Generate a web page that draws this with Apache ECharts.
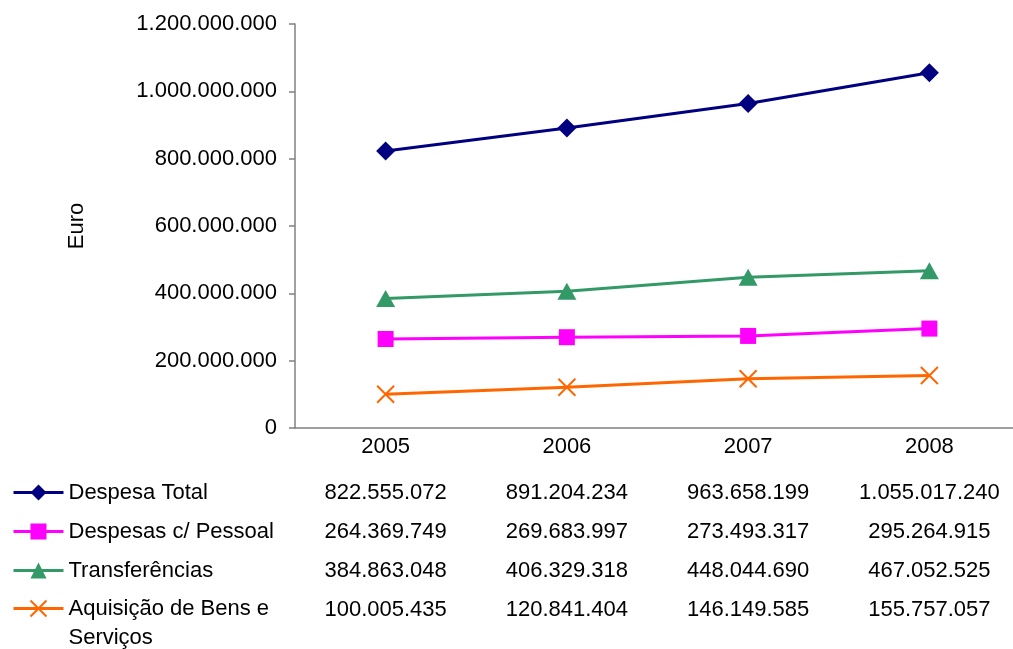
<!DOCTYPE html>
<html>
<head>
<meta charset="utf-8">
<script src="https://cdn.jsdelivr.net/npm/echarts@6/dist/echarts.min.js"></script>
<style>
  html, body { margin: 0; padding: 0; background: #fff; overflow: hidden; }
  #chart { width: 1023px; height: 649px; }
</style>
</head>
<body>
<div id="chart"></div>
<script>
// Annual expenditure by type, in euro
const years = ['2005', '2006', '2007', '2008'];
const despesaTotal = [822555072, 891204234, 963658199, 1055017240];
const despesasPessoal = [264369749, 269683997, 273493317, 295264915];
const transferencias = [384863048, 406329318, 448044690, 467052525];
const aquisicaoBens = [100005435, 120841404, 146149585, 155757057];

const seriesNames = ['Despesa Total', 'Despesas c/ Pessoal', 'Transferências', 'Aquisição de Bens e Serviços'];
const seriesValues = [despesaTotal, despesasPessoal, transferencias, aquisicaoBens];
const seriesColors = ['#000080', '#FF00FF', '#339966', '#FF6600'];
const seriesSymbols = ['diamond', 'rect', 'triangle', 'path://M0,0L10,10M10,0L0,10'];
const seriesSymbolSizes = [[19, 19], 16, [19, 17], 17];

const FONT = '"Liberation Sans", Arial, sans-serif';
const FS = 22;

// Portuguese-style thousands separator
function fmt(v) {
  return String(v).replace(/\B(?=(\d{3})+(?!\d))/g, '.');
}

const chart = echarts.init(document.getElementById('chart'), null, { renderer: 'canvas' });

// Category axis plus one line-less axis per data-table row
const xAxes = [{
  type: 'category',
  data: years,
  boundaryGap: true,
  axisLine: { show: true, lineStyle: { color: '#808080', width: 1.5 } },
  axisTick: { show: false },
  axisLabel: { color: '#000', fontFamily: FONT, fontSize: FS, margin: 8, interval: 0 }
}];
const rowOffsets = [46, 85, 124, 163];
seriesValues.forEach((vals, i) => {
  xAxes.push({
    type: 'category',
    data: years,
    position: 'bottom',
    offset: rowOffsets[i],
    axisLine: { show: false },
    axisTick: { show: false },
    axisLabel: {
      color: '#000', fontFamily: FONT, fontSize: FS, margin: 8, interval: 0,
      formatter: (val, idx) => fmt(vals[idx])
    }
  });
});

const series = seriesNames.map((name, i) => ({
  name: name,
  type: 'line',
  xAxisIndex: 0,
  data: seriesValues[i],
  symbol: seriesSymbols[i],
  symbolSize: seriesSymbolSizes[i],
  showAllSymbol: true,
  lineStyle: { color: seriesColors[i], width: 3 },
  itemStyle: i === 3
    ? { color: seriesColors[i], borderColor: seriesColors[i], borderWidth: 2 }
    : { color: seriesColors[i], borderWidth: 0 },
  emphasis: { disabled: true },
  animation: false,
  z: 10 - i
}));

// Shared look of the table-row legend entries
const legendBase = {
  orient: 'vertical',
  left: 12,
  padding: 0,
  itemWidth: 50,
  itemHeight: 20,
  itemGap: 14,
  selectedMode: false,
  lineStyle: { width: 3 },
  textStyle: { color: '#000', fontFamily: FONT, fontSize: FS, lineHeight: 25 }
};

chart.setOption({
  backgroundColor: '#fff',
  animation: false,
  grid: { left: 295, top: 24, right: 3, height: 404, containLabel: false },
  legend: [
    Object.assign({}, legendBase, {
      top: 480,
      height: 160,
      data: seriesNames.slice(0, 3)
    }),
    // last row: two-line name; a leading blank line keeps the marker on the first line
    Object.assign({}, legendBase, {
      top: 565,
      height: 120,
      formatter: () => '\nAquisição de Bens e\nServiços',
      data: [{ name: seriesNames[3], textStyle: { lineHeight: 29 } }]
    })
  ],
  xAxis: xAxes,
  yAxis: {
    type: 'value',
    min: 0,
    max: 1200000000,
    interval: 200000000,
    name: 'Euro',
    nameLocation: 'middle',
    nameGap: 207,
    nameRotate: 90,
    nameTextStyle: { color: '#000', fontFamily: FONT, fontSize: FS },
    axisLine: { show: true, lineStyle: { color: '#808080', width: 1.5 } },
    axisTick: { show: true, inside: false, length: 6, lineStyle: { color: '#808080', width: 1.5 } },
    splitLine: { show: false },
    axisLabel: {
      color: '#000', fontFamily: FONT, fontSize: FS, margin: 18,
      formatter: (v) => fmt(v)
    }
  },
  series: series
});
</script>
</body>
</html>
